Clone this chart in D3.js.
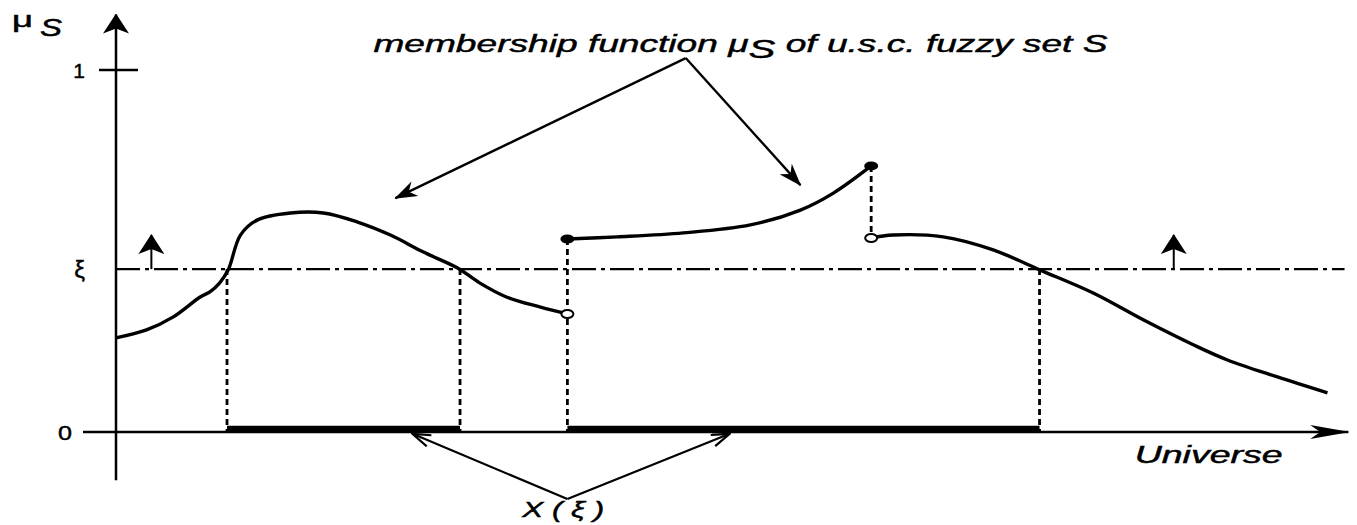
<!DOCTYPE html>
<html>
<head>
<meta charset="utf-8">
<script src="https://cdn.jsdelivr.net/npm/d3@7"></script>
<style>
body { margin: 0; background: #fff; }
text { font-family: "Liberation Sans", Arial, sans-serif; fill: #000; stroke: #000; stroke-width: 0.45px; }
</style>
</head>
<body>
<div id="chart"></div>
<script>
// level of the cut
const xi = 0.45;

// membership function, three pieces (universe position, membership)
const segment1 = [[0, 0.26], [2.5, 0.282], [4.7, 0.318], [6.9, 0.373], [7.7, 0.387], [8.5, 0.412],
    [9.2, 0.448], [10.2, 0.544], [11.6, 0.586], [14.3, 0.605], [17.0, 0.605], [19.8, 0.58],
    [22.5, 0.544], [25.2, 0.497], [28.0, 0.453], [29.8, 0.412], [32.0, 0.373], [34.8, 0.345], [37.0, 0.326]];
const segment2 = [[37.0, 0.533], [41.1, 0.539], [46.5, 0.55], [52.0, 0.572], [56.1, 0.613], [58.8, 0.66], [61.9, 0.735]];
const segment3 = [[61.9, 0.536], [63.7, 0.544], [67.8, 0.539], [71.9, 0.503], [75.7, 0.448], [80.1, 0.384],
    [84.2, 0.31], [88.3, 0.241], [91.1, 0.199], [95.2, 0.152], [99.3, 0.108]];

// filled = value taken, open = value not taken
const filledDots = [[37.0, 0.533], [61.9, 0.735]];
const openDots = [[37.0, 0.326], [61.9, 0.536]];

// level set X(xi) as intervals
const levelSet = [[9.1, 28.2], [37.0, 75.7]];
// dotted drops: [u, from, to]
const drops = [[9.1, xi, 0], [28.2, xi, 0], [37.0, 0.533, 0], [61.9, 0.735, 0.536], [75.7, xi, 0]];
// little "upper" arrows sitting on the xi line
const upArrows = [2.9, 86.7];

const yTicks = [0, xi, 1];
const yTickLabels = ["0", "ξ", "1"];

let w = 1357, h = 525;
const svg = d3.select("#chart").append("svg")
    .attr("width", w)
    .attr("height", h);

let x = d3.scaleLinear().domain([0, 100]).range([116, 1336]);
let y = d3.scaleLinear().domain([0, 1]).range([432, 70]);

// markers
const defs = svg.append("defs");
defs.append("marker")
    .attr("id", "head")
    .attr("viewBox", "0 0 20 14")
    .attr("refX", 19).attr("refY", 7)
    .attr("markerUnits", "userSpaceOnUse")
    .attr("markerWidth", 24).attr("markerHeight", 16)
    .attr("orient", "auto")
    .append("path")
    .attr("d", "M0,0 L20,7 L0,14 L6,7 Z")
    .attr("fill", "#000");
defs.append("marker")
    .attr("id", "vhead")
    .attr("viewBox", "0 0 20 14")
    .attr("refX", 19).attr("refY", 7)
    .attr("markerUnits", "userSpaceOnUse")
    .attr("markerWidth", 20).attr("markerHeight", 14)
    .attr("orient", "auto")
    .append("path")
    .attr("d", "M1,1 L19,7 L1,13")
    .attr("fill", "none")
    .attr("stroke", "#000")
    .attr("stroke-width", 2.2);
defs.append("marker")
    .attr("id", "axhead")
    .attr("viewBox", "0 0 40 16")
    .attr("refX", 38).attr("refY", 8)
    .attr("markerUnits", "userSpaceOnUse")
    .attr("markerWidth", 40).attr("markerHeight", 16)
    .attr("orient", "auto")
    .append("path")
    .attr("d", "M0,1 L40,8 L0,15 L10,8 Z")
    .attr("fill", "#000");
defs.append("marker")
    .attr("id", "yhead")
    .attr("viewBox", "0 0 20 26")
    .attr("refX", 19).attr("refY", 13)
    .attr("markerUnits", "userSpaceOnUse")
    .attr("markerWidth", 20).attr("markerHeight", 26)
    .attr("orient", "auto")
    .append("path")
    .attr("d", "M0,0 L20,13 L0,26 L5,13 Z")
    .attr("fill", "#000");

// xi level (dash-dot)
svg.append("line")
    .attr("x1", x(0)).attr("x2", x(100.7))
    .attr("y1", y(xi)).attr("y2", y(xi))
    .attr("stroke", "#000")
    .attr("stroke-width", 2.2)
    .attr("stroke-dasharray", "24,5,4,5");

// up arrows on the level
upArrows.forEach(u => {
    svg.append("line")
        .attr("x1", x(u)).attr("x2", x(u))
        .attr("y1", y(xi)).attr("y2", y(0.544))
        .attr("stroke", "#000")
        .attr("stroke-width", 2)
        .attr("marker-end", "url(#yhead)");
});

// dotted drops
svg.selectAll(".drop")
    .data(drops)
    .enter()
    .append("line")
    .attr("class", "drop")
    .attr("x1", d => x(d[0])).attr("x2", d => x(d[0]))
    .attr("y1", d => y(d[1])).attr("y2", d => y(d[2]))
    .attr("stroke", "#000")
    .attr("stroke-width", 2.8)
    .attr("stroke-dasharray", "6,4");

// axes
svg.append("line")
    .attr("x1", 83).attr("x2", x(101))
    .attr("y1", y(0)).attr("y2", y(0))
    .attr("stroke", "#000")
    .attr("stroke-width", 2.5)
    .attr("marker-end", "url(#axhead)");
svg.append("line")
    .attr("x1", x(0)).attr("x2", x(0))
    .attr("y1", y(-0.133)).attr("y2", y(1.153))
    .attr("stroke", "#000")
    .attr("stroke-width", 2.5)
    .attr("marker-end", "url(#yhead)");
svg.append("line")
    .attr("x1", 99).attr("x2", 138)
    .attr("y1", y(1)).attr("y2", y(1))
    .attr("stroke", "#000")
    .attr("stroke-width", 2.5);

const yAxis = svg.append("g")
    .attr("transform", `translate(${x(0)},0)`)
    .call(d3.axisLeft(y).tickValues(yTicks).tickFormat((d, i) => yTickLabels[i]).tickSize(0).tickPadding(31));
yAxis.select(".domain").remove();
yAxis.selectAll("text")
    .style("font-family", "'Liberation Sans', Arial, sans-serif")
    .style("font-size", "21px")
    .attr("fill", "#000")
    .attr("dy", "0.36em");
yAxis.selectAll(".tick").filter(d => d === 0).select("text")
    .attr("x", -44)
    .attr("textLength", 14)
    .attr("lengthAdjust", "spacingAndGlyphs");
yAxis.selectAll(".tick").filter(d => d === xi).select("text").style("font-size", "24px");

// level set intervals (thick)
svg.selectAll(".cut")
    .data(levelSet)
    .enter()
    .append("line")
    .attr("class", "cut")
    .attr("x1", d => x(d[0])).attr("x2", d => x(d[1]))
    .attr("y1", y(0) - 3).attr("y2", y(0) - 3)
    .attr("stroke", "#000")
    .attr("stroke-width", 6.5);

// membership curve
let line = d3.line()
    .x(d => x(d[0]))
    .y(d => y(d[1]))
    .curve(d3.curveCatmullRom.alpha(0.5));
[segment1, segment2, segment3].forEach(seg => {
    svg.append("path")
        .attr("d", line(seg))
        .attr("fill", "none")
        .attr("stroke", "#000")
        .attr("stroke-width", 3.4)
        .attr("stroke-linejoin", "round");
});

svg.selectAll(".filled")
    .data(filledDots)
    .enter()
    .append("ellipse")
    .attr("cx", d => x(d[0])).attr("cy", d => y(d[1]))
    .attr("rx", 7).attr("ry", 4.5)
    .attr("fill", "#000");
svg.selectAll(".open")
    .data(openDots)
    .enter()
    .append("ellipse")
    .attr("cx", d => x(d[0])).attr("cy", d => y(d[1]))
    .attr("rx", 6).attr("ry", 4)
    .attr("fill", "#fff")
    .attr("stroke", "#000")
    .attr("stroke-width", 2);

// annotation: membership function
const title = svg.append("text")
    .attr("x", x(21.1)).attr("y", y(1.05))
    .attr("font-size", 24)
    .attr("font-style", "italic")
    .attr("textLength", 734)
    .attr("lengthAdjust", "spacingAndGlyphs");
title.append("tspan").text("membership function μ");
title.append("tspan").attr("dy", 6).attr("font-size", 26).text("S");
title.append("tspan").attr("dy", -6).text(" of u.s.c. fuzzy set S");

const apex = [46.7, 1.033];
[[22.9, 0.646], [56.1, 0.682]].forEach(t => {
    svg.append("line")
        .attr("x1", x(apex[0])).attr("y1", y(apex[1]))
        .attr("x2", x(t[0])).attr("y2", y(t[1]))
        .attr("stroke", "#000")
        .attr("stroke-width", 2.4)
        .attr("marker-end", "url(#head)");
});

// annotation: X(xi)
const apex2 = [37.0, -0.185];
[[24.3, -0.005], [50.3, -0.005]].forEach(t => {
    svg.append("line")
        .attr("x1", x(apex2[0])).attr("y1", y(apex2[1]))
        .attr("x2", x(t[0])).attr("y2", y(t[1]))
        .attr("stroke", "#000")
        .attr("stroke-width", 2.2)
        .attr("marker-end", "url(#vhead)");
});
svg.append("text")
    .attr("x", x(33.3)).attr("y", y(-0.235))
    .attr("font-size", 22)
    .attr("font-style", "italic")
    .attr("textLength", 82)
    .attr("lengthAdjust", "spacingAndGlyphs")
    .text("X ( ξ )");

// axis names
svg.append("text")
    .attr("x", x(83.5)).attr("y", y(-0.086))
    .attr("font-size", 23)
    .attr("font-style", "italic")
    .attr("textLength", 148)
    .attr("lengthAdjust", "spacingAndGlyphs")
    .text("Universe");
svg.append("text")
    .attr("x", 12).attr("y", 27)
    .attr("font-size", 22)
    .attr("textLength", 21)
    .attr("lengthAdjust", "spacingAndGlyphs")
    .text("μ");
svg.append("text")
    .attr("x", 40).attr("y", 36)
    .attr("font-size", 24)
    .attr("font-style", "italic")
    .attr("textLength", 22)
    .attr("lengthAdjust", "spacingAndGlyphs")
    .text("S");
</script>
</body>
</html>
